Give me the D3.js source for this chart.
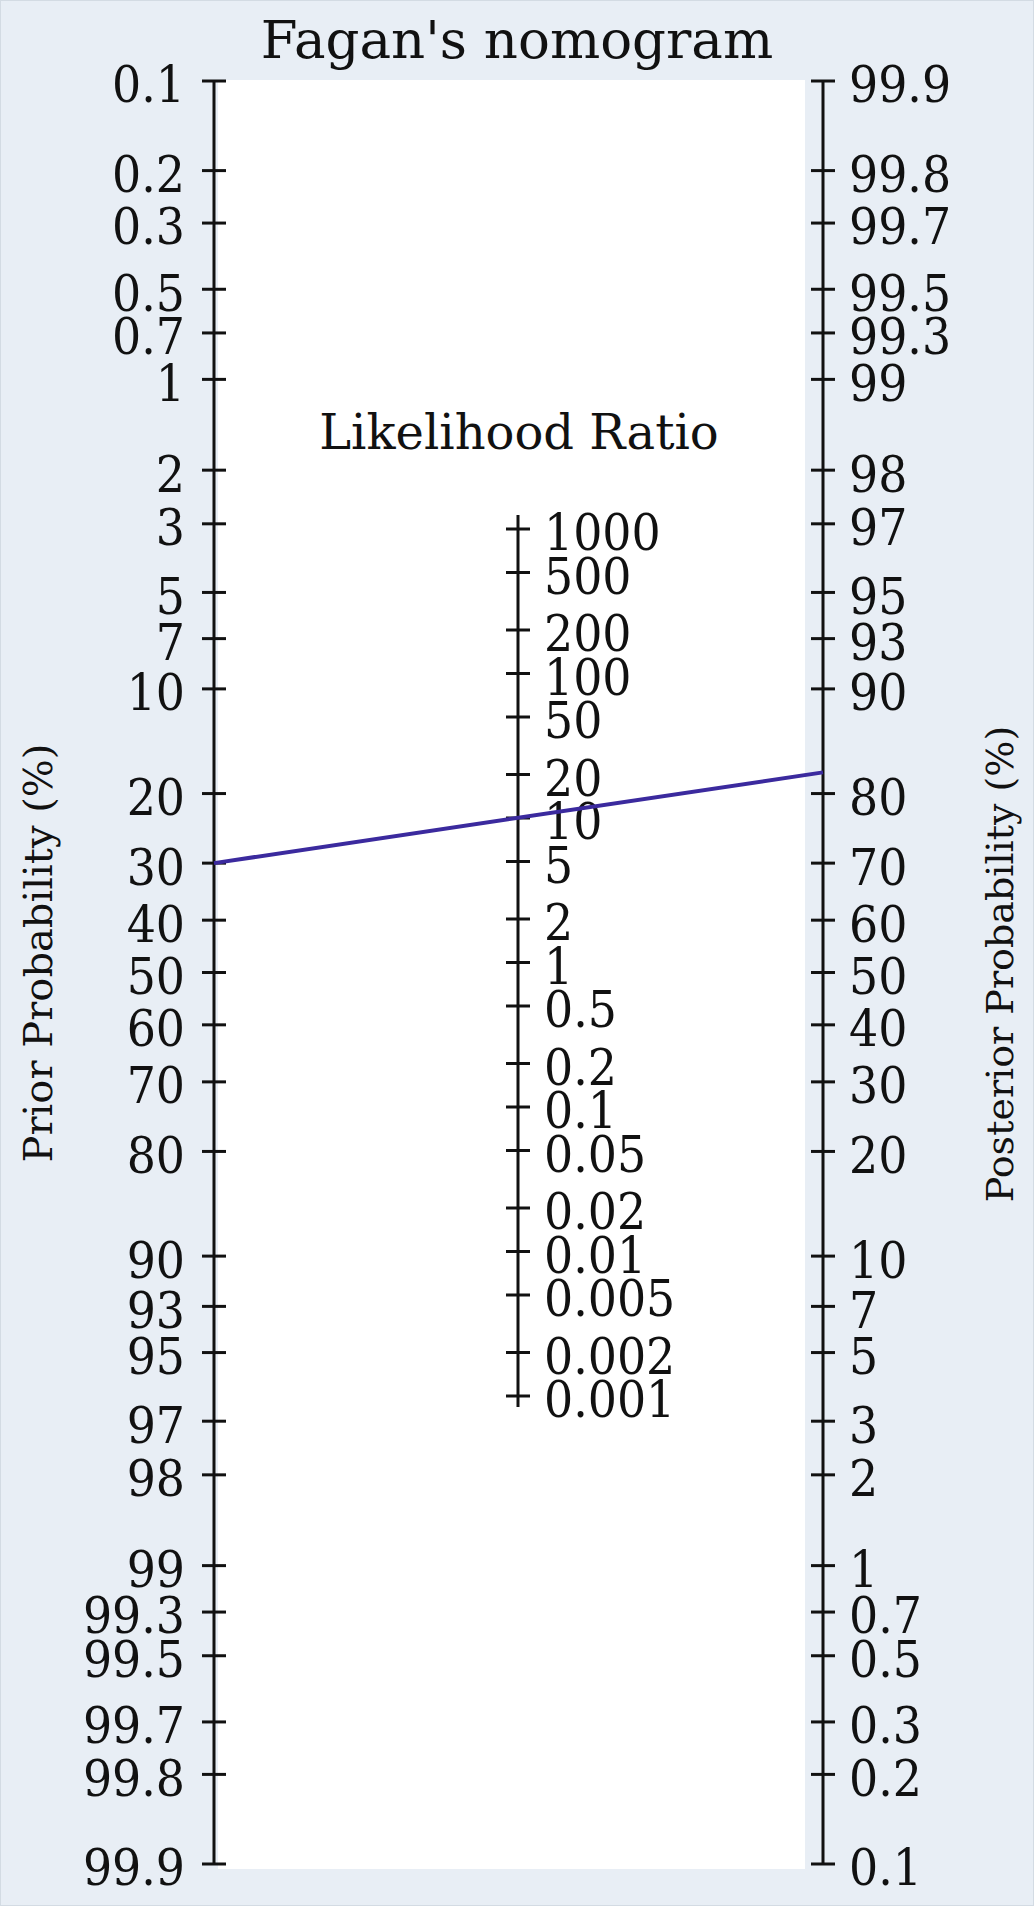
<!DOCTYPE html>
<html>
  <head>
    <meta charset="utf-8">
    <title>Fagan's nomogram</title>
    <script src="https://cdn.jsdelivr.net/npm/d3@7"></script>
    <style>
      body { margin: 0; background: #e9eff5; }
      text { font-family: "DejaVu Serif", serif; fill: #111; }
      text.num { font-family: "DejaVu Serif Condensed", "DejaVu Serif", serif; }
    </style>
  </head>
  <body>
    <div id="chart"></div>

    <script>
      // tick values
      const priorTicks = [0.1, 0.2, 0.3, 0.5, 0.7, 1, 2, 3, 5, 7, 10, 20, 30, 40, 50,
        60, 70, 80, 90, 93, 95, 97, 98, 99, 99.3, 99.5, 99.7, 99.8, 99.9];
      const postTicks = priorTicks.slice();
      const lrTicks = [1000, 500, 200, 100, 50, 20, 10, 5, 2, 1, 0.5, 0.2, 0.1,
        0.05, 0.02, 0.01, 0.005, 0.002, 0.001];

      // the drawn example
      const priorPct = 30;
      const lrValue = 11;

      const width = 1034, height = 1906;
      const xLeft = 214, xRight = 823, xMid = 518;

      const svg = d3.select("#chart").append("svg")
        .attr("width", width)
        .attr("height", height);

      // background + plot region
      svg.append("rect")
        .attr("x", 0.5).attr("y", 0.5)
        .attr("width", width - 1).attr("height", height - 1)
        .attr("fill", "#e8eef5")
        .attr("stroke", "#d3dbe3");
      svg.append("rect")
        .attr("x", 218).attr("y", 80)
        .attr("width", 587).attr("height", 1789)
        .attr("fill", "#fff");

      // scales: probabilities on the logit scale, LR on log scale
      const logit = p => Math.log(p / (1 - p));
      const lin = d3.scaleLinear()
        .domain([logit(0.001), logit(0.999)])
        .range([81, 1864]);
      const yPrior = p => lin(logit(p / 100));
      const yPost = p => lin(-logit(p / 100));
      const yLR = d3.scaleLog()
        .domain([0.001, 1000])
        .range([1396, 529]);

      const fmt = d => String(d);

      function drawAxis(x, lo, hi, ticks, yFn, side, half) {
        const g = svg.append("g");
        g.append("line")
          .attr("x1", x).attr("x2", x)
          .attr("y1", lo).attr("y2", hi)
          .attr("stroke", "#111")
          .attr("stroke-width", 3);
        g.selectAll(".tick")
          .data(ticks)
          .enter().append("line")
            .attr("x1", x - half).attr("x2", x + half)
            .attr("y1", d => yFn(d)).attr("y2", d => yFn(d))
            .attr("stroke", "#111")
            .attr("stroke-width", 3);
        g.selectAll(".lab")
          .data(ticks)
          .enter().append("text")
            .attr("class", "num")
            .attr("x", side < 0 ? x - 29 : x + 26)
            .attr("y", d => yFn(d))
            .attr("dy", "0.42em")
            .attr("text-anchor", side < 0 ? "end" : "start")
            .style("font-size", "51px")
            .text(fmt);
      }

      drawAxis(xLeft, 81, 1864, priorTicks, yPrior, -1, 12);
      drawAxis(xRight, 81, 1864, postTicks, yPost, 1, 12);
      drawAxis(xMid, 515, 1407, lrTicks, yLR, 1, 12);

      // line: prior -> LR -> posterior
      const postOdds = priorPct / (100 - priorPct) * lrValue;
      const postPct = 100 * postOdds / (1 + postOdds);
      svg.append("line")
        .attr("x1", xLeft).attr("y1", yPrior(priorPct))
        .attr("x2", xRight).attr("y2", yPost(postPct))
        .attr("stroke", "#3b2a9e")
        .attr("stroke-width", 4);

      // titles
      svg.append("text")
        .attr("x", 517).attr("y", 58)
        .attr("text-anchor", "middle")
        .style("font-size", "53px")
        .text("Fagan's nomogram");
      svg.append("text")
        .attr("x", 519).attr("y", 449)
        .attr("text-anchor", "middle")
        .style("font-size", "48px")
        .text("Likelihood Ratio");
      svg.append("text")
        .attr("transform", "translate(52,953) rotate(-90)")
        .attr("text-anchor", "middle")
        .style("font-size", "40px")
        .text("Prior Probability (%)");
      svg.append("text")
        .attr("transform", "translate(1013,964) rotate(-90)")
        .attr("text-anchor", "middle")
        .style("font-size", "38px")
        .text("Posterior Probability (%)");
    </script>
  </body>
</html>
